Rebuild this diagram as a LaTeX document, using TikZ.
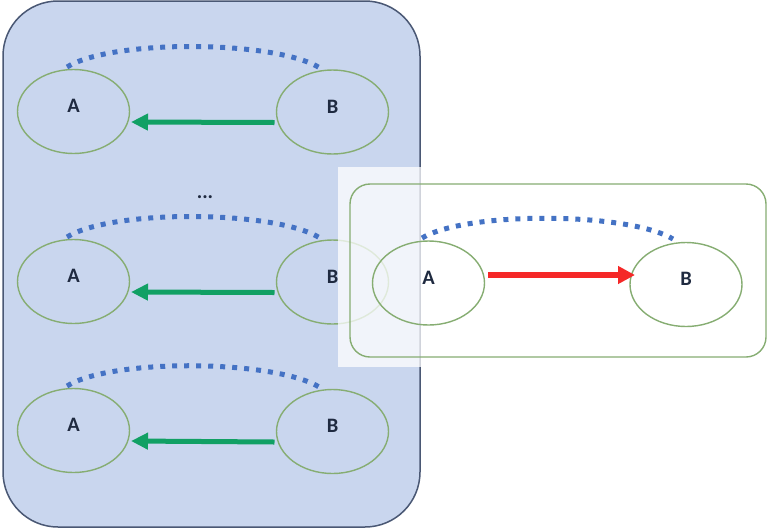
\documentclass[tikz,border=0pt]{standalone}
\usepackage{fontspec}
\setmainfont{Carlito}
\usetikzlibrary{shapes.geometric,arrows.meta,calc}
\definecolor{panelblue}{HTML}{C9D6EE}
\definecolor{panelframe}{HTML}{4A5874}
\definecolor{ringgreen}{HTML}{86AD72}
\definecolor{dotblue}{HTML}{4472C4}
\definecolor{arrowgreen}{HTML}{11A064}
\definecolor{arrowred}{HTML}{F52828}
\definecolor{labelink}{HTML}{1F2A40}
\begin{document}
\begin{tikzpicture}[x=1pt,y=-1pt,
  ring/.style={ellipse,draw=ringgreen,line width=1.4pt,minimum width=112pt,minimum height=84pt,inner sep=0pt},
  lbl/.style={font=\fontsize{20.5}{24}\selectfont\bfseries,text=labelink,inner sep=0pt},
  dotarc/.style={draw=dotblue,line width=5pt,dash pattern=on 5pt off 7pt},
  greenarrow/.style={draw=arrowgreen,line width=5pt,-{Triangle[length=17pt,width=16pt]}},
  redarrow/.style={draw=arrowred,line width=6pt,-{Triangle[length=17pt,width=17pt]}}]
\useasboundingbox (0,0) rectangle (768,528);
% left panel
\node[draw=panelframe,fill=panelblue,line width=1.5pt,rounded corners=55pt,minimum width=417pt,minimum height=526pt,inner sep=0pt] (panel) at (211.5,264) {};
% rows
\foreach \r/\ya/\yb in {1/111.5/112,2/281.5/282,3/430.5/431.5}{
  \node[ring] (a\r) at (73.5,\ya) {};
  \node[ring] (b\r) at (332.5,\yb) {};
  \node[lbl] (la\r) at ($(a\r.center)+(0,-5.5)$) {A};
  \node[lbl] (lb\r) at ($(b\r.center)+(0,-5.5)$) {B};
  \draw[greenarrow] ($(b\r.center)+(-58,10.5)$) -- ($(a\r.center)+(57.5,10.5)$);
  \draw[dotarc] ($(a\r.center)+(-6.5,-44.5)$) .. controls +(45,-28) and +(-45,-28) .. ($(b\r.center)+(-12.5,-44)$);
}
\node[lbl] (ell) at (205,197) {...};
% white overlay
\fill[white,opacity=0.74] (338,167) rectangle (768,367);
% right frame
\node[draw=ringgreen,line width=1.4pt,rounded corners=20pt,minimum width=416pt,minimum height=173pt,inner sep=0pt] (frame) at (558,270.5) {};
\node[ring] (ra) at (428.5,283) {};
\node[ring] (rb) at (686,284.5) {};
\node[lbl] (lra) at ($(ra.center)+(0,-5.5)$) {A};
\node[lbl] (lrb) at ($(rb.center)+(0,-5.5)$) {B};
\draw[redarrow] ($(ra.center)+(59.5,-8)$) -- ($(rb.center)+(-51,-9.5)$);
\draw[dotarc] ($(ra.center)+(-6.5,-45)$) .. controls +(45,-27) and +(-45,-27) .. ($(rb.center)+(-13,-45.5)$);
\end{tikzpicture}
\end{document}
